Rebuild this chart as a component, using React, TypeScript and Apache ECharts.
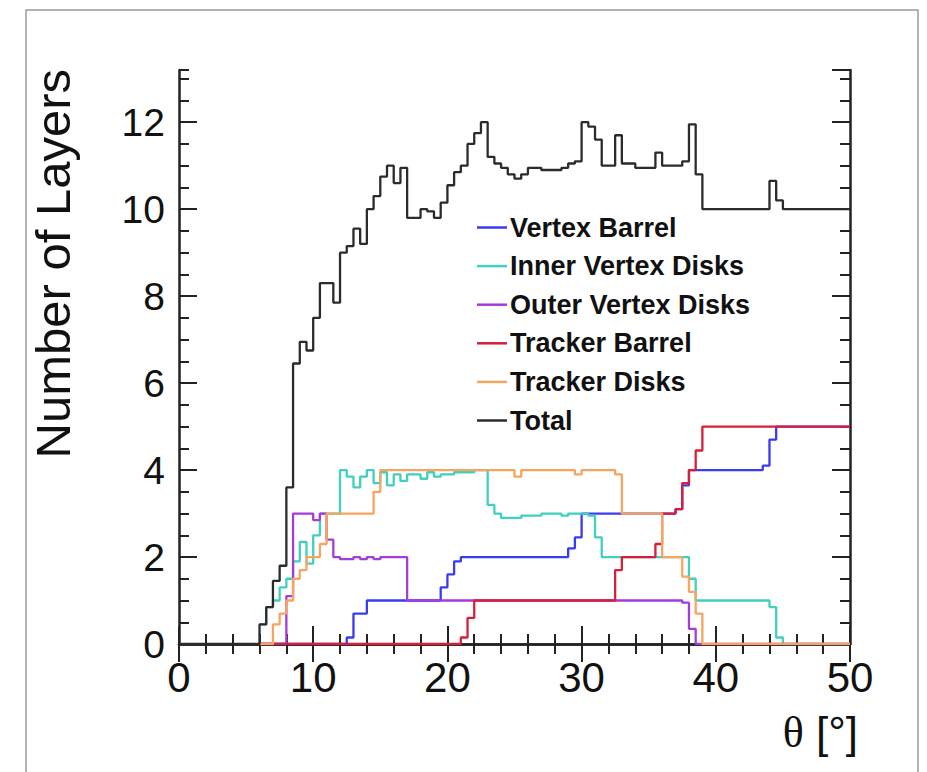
import React, { useEffect, useRef } from 'react';
import * as echarts from 'echarts';

const seriesNames = ['Vertex Barrel', 'Inner Vertex Disks', 'Outer Vertex Disks', 'Tracker Barrel', 'Tracker Disks', 'Total'];
const seriesColors = ['#3b3bef', '#3fd0bf', '#a53bd8', '#d81f3a', '#f7a45e', '#2b2b2b'];

const xTickValues = [0, 10, 20, 30, 40, 50];
const yTickValues = [0, 2, 4, 6, 8, 10, 12];

// [theta start of bin, value held until next entry]
const vertexBarrel: [number, number][] = [[6, 0], [12.5, 0.15], [13, 0.7], [14, 1.0], [19.5, 1.3], [20, 1.6], [20.5, 1.9], [21, 2.0], [29, 2.2], [29.5, 2.45], [30, 3.0], [37, 3.1], [37.5, 3.65], [38, 4.0], [43.5, 4.1], [44, 4.7], [44.5, 5.0], [50, 5.0]];
const innerVertexDisks: [number, number][] = [[6, 0.45], [6.5, 0.85], [7, 1.0], [7.5, 1.3], [8, 1.5], [8.5, 1.9], [9, 2.35], [9.5, 1.85], [10, 2.5], [10.5, 3.0], [12, 4.0], [12.5, 3.85], [13, 3.6], [13.5, 3.85], [14, 4.0], [14.5, 3.7], [15, 3.95], [15.5, 3.65], [16, 3.9], [16.5, 3.75], [17, 3.9], [18, 3.8], [18.5, 3.95], [19, 3.85], [19.5, 3.9], [20.5, 3.95], [22, 4.0], [23, 3.2], [23.5, 3.0], [24, 2.9], [25.5, 2.95], [27, 3.0], [28.5, 2.95], [29, 3.0], [30.5, 2.95], [31, 2.45], [31.5, 2.0], [38, 1.5], [38.5, 1.0], [44, 0.85], [44.5, 0.15], [45, 0], [50, 0]];
const outerVertexDisks: [number, number][] = [[6, 0], [8, 1.1], [8.5, 3.0], [10, 2.85], [10.5, 3.0], [11, 2.4], [11.5, 2.0], [12, 1.95], [13, 2.0], [13.5, 1.95], [14, 2.0], [14.5, 1.95], [15, 2.0], [17, 1.0], [37.5, 0.95], [38, 0.35], [38.5, 0], [50, 0]];
const trackerBarrel: [number, number][] = [[6, 0], [21, 0.15], [21.5, 0.6], [22, 1.0], [32.5, 1.7], [33, 2.0], [35.5, 2.3], [36, 3.0], [37, 3.1], [37.5, 3.7], [38, 4.0], [38.5, 4.45], [39, 5.0], [50, 5.0]];
const trackerDisks: [number, number][] = [[6, 0], [7, 0.45], [7.5, 0.7], [8, 1.0], [8.5, 1.5], [9, 1.7], [9.5, 2.0], [10.5, 2.3], [11, 3.0], [14.5, 3.5], [15, 4.0], [25, 3.85], [25.5, 4.0], [29.5, 3.9], [30, 4.0], [32.5, 3.9], [33, 3.0], [36, 2.0], [37.5, 1.55], [38, 1.2], [38.5, 0.7], [39, 0], [50, 0]];
const total: [number, number][] = [[0, 0], [6, 0.45], [6.5, 0.85], [7, 1.45], [7.5, 1.8], [8, 3.6], [8.5, 6.45], [9, 6.95], [9.5, 6.75], [10, 7.5], [10.5, 8.3], [11.5, 7.85], [12, 9.0], [12.5, 9.15], [13, 9.55], [13.5, 9.2], [14, 10.0], [14.5, 10.3], [15, 10.75], [15.5, 11.0], [16, 10.6], [16.5, 10.95], [17, 9.8], [18, 10.0], [18.5, 9.95], [19, 9.8], [19.5, 10.15], [20, 10.55], [20.5, 10.85], [21, 11.0], [21.5, 11.5], [22, 11.75], [22.5, 12.0], [23, 11.2], [23.5, 11.05], [24, 10.95], [24.5, 10.8], [25, 10.7], [25.5, 10.8], [26, 10.95], [27, 10.9], [28.5, 10.95], [29, 11.05], [29.5, 11.1], [30, 12.0], [30.5, 11.9], [31, 11.6], [31.5, 11.0], [32.5, 11.7], [33, 11.05], [34, 10.95], [35.5, 11.3], [36, 11.0], [37.5, 11.1], [38, 11.95], [38.5, 10.8], [39, 10.0], [44, 10.65], [44.5, 10.2], [45, 10.0], [50, 10.0]];

const seriesData = [vertexBarrel, innerVertexDisks, outerVertexDisks, trackerBarrel, trackerDisks, total];

const FONT = "'Liberation Sans', Arial, Helvetica, sans-serif";
const AX = '#222';

export default function App() {
  const ref = useRef<HTMLDivElement>(null);
  useEffect(() => {
    if (!ref.current) return;
    const chart = echarts.init(ref.current, null, { renderer: 'svg' });
    const xMin = xTickValues[0];
    const xMax = xTickValues[xTickValues.length - 1];
    const yMax = 13.2;
    const xBase = {
      type: 'value', min: xMin, max: xMax, interval: 10,
      axisLine: { show: true, lineStyle: { color: AX, width: 2.5 } },
      axisTick: { show: true, inside: true, length: 18, lineStyle: { color: AX, width: 2 } },
      minorTick: { show: true, splitNumber: 5, length: 10, lineStyle: { color: AX, width: 2 } },
      splitLine: { show: false },
    };
    const yMajor = {
      type: 'value', min: yTickValues[0], max: yMax, interval: 2,
      axisLine: { show: true, lineStyle: { color: AX, width: 2.5 } },
      axisTick: { show: true, inside: true, length: 18, lineStyle: { color: AX, width: 2 } },
      splitLine: { show: false },
    };
    const yMinor = {
      type: 'value', min: yTickValues[0], max: yMax, interval: 0.5,
      axisLine: { show: false },
      axisTick: { show: true, inside: true, length: 10, lineStyle: { color: AX, width: 2 } },
      axisLabel: { show: false },
      splitLine: { show: false },
    };
    chart.setOption({
      animation: false,
      backgroundColor: '#fff',
      grid: { left: 179, right: 77, top: 70, bottom: 128, containLabel: false },
      xAxis: [
        { ...xBase, position: 'bottom', axisLabel: { show: true, fontFamily: FONT, fontSize: 42, color: '#111', margin: 12 } },
        { ...xBase, position: 'top', axisLabel: { show: false } },
      ],
      yAxis: [
        { ...yMajor, position: 'left', axisLabel: { show: true, showMaxLabel: false, fontFamily: FONT, fontSize: 39, color: '#111', margin: 14 } },
        { ...yMinor, position: 'left' },
        { ...yMajor, position: 'right', axisLabel: { show: false } },
        { ...yMinor, position: 'right' },
      ],
      legend: {
        show: true,
        orient: 'vertical',
        left: 472,
        top: 209,
        itemWidth: 30,
        itemHeight: 2.5,
        itemGap: 11.6,
        icon: 'rect',
        textStyle: { fontFamily: FONT, fontSize: 27, fontWeight: 'bold', color: '#111', lineHeight: 27, padding: [0, 0, 0, -2] },
        data: seriesNames,
      },
      graphic: [
        { type: 'rect', shape: { x: 26, y: 10, width: 892, height: 800 }, style: { fill: 'none', stroke: '#9a9a9a', lineWidth: 1.5 }, silent: true, z: -1 },
        {
          type: 'text', x: 53, y: 69, rotation: Math.PI / 2,
          style: { text: 'Number of Layers', font: `49px ${FONT}`, fill: '#111', textAlign: 'right', textVerticalAlign: 'middle' },
        },
        {
          type: 'text', x: 858, y: 732,
          style: {
            text: '{t|θ} [°]', textAlign: 'right', textVerticalAlign: 'middle', fill: '#111', font: `44px ${FONT}`,
            rich: { t: { fontFamily: "'Liberation Serif', 'DejaVu Serif', serif", fontSize: 44, fill: '#111' } },
          },
        },
      ],
      series: seriesData.map((d, i) => ({
        name: seriesNames[i],
        type: 'line',
        step: 'end',
        data: d,
        xAxisIndex: 0,
        yAxisIndex: 0,
        showSymbol: false,
        symbol: 'none',
        lineStyle: { color: seriesColors[i], width: 2.3 },
        itemStyle: { color: seriesColors[i] },
        z: 3 + i,
      })),
    });
    return () => chart.dispose();
  }, []);
  return <div ref={ref} style={{ position: 'fixed', left: 0, top: 0, width: 927, height: 772, background: '#fff' }} />;
}
